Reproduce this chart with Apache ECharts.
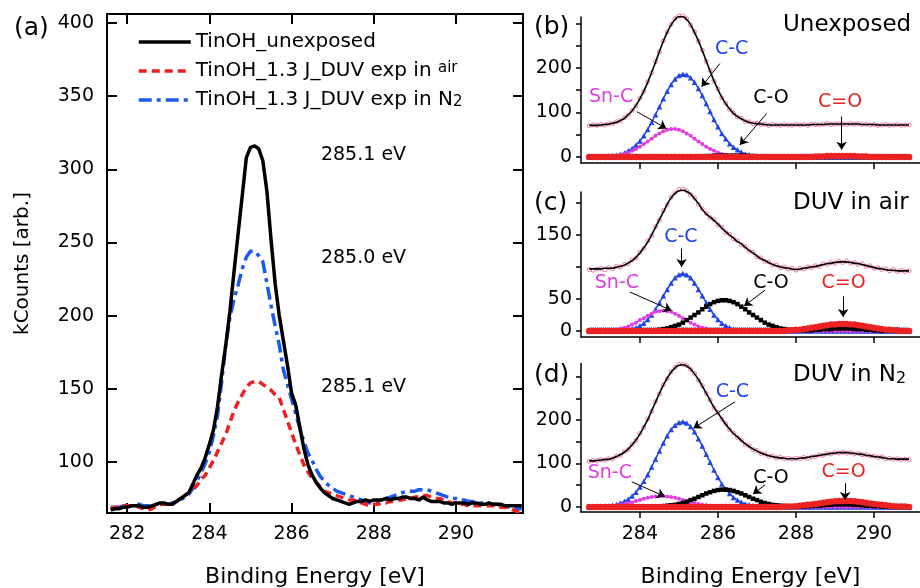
<!DOCTYPE html>
<html>
<head>
<meta charset="utf-8">
<script src="https://cdn.jsdelivr.net/npm/echarts@6/dist/echarts.min.js"></script>
<style>
  html, body { margin: 0; padding: 0; background: #fff; }
  #chart { width: 920px; height: 588px; }
</style>
</head>
<body>
<div id="chart"></div>
<script>
// ---- panel (a): C 1s spectra of the three samples ----
const energyA = [
  281.6, 281.7, 281.8, 281.9, 282.0, 282.1, 282.2, 282.3, 282.4, 282.5,
  282.6, 282.7, 282.8, 282.9, 283.0, 283.1, 283.2, 283.3, 283.4, 283.5,
  283.6, 283.7, 283.8, 283.9, 284.0, 284.1, 284.2, 284.3, 284.4, 284.5,
  284.6, 284.7, 284.8, 284.9, 285.0, 285.1, 285.2, 285.3, 285.4, 285.5,
  285.6, 285.7, 285.8, 285.9, 286.0, 286.1, 286.2, 286.3, 286.4, 286.5,
  286.6, 286.7, 286.8, 286.9, 287.0, 287.1, 287.2, 287.3, 287.4, 287.5,
  287.6, 287.7, 287.8, 287.9, 288.0, 288.1, 288.2, 288.3, 288.4, 288.5,
  288.6, 288.7, 288.8, 288.9, 289.0, 289.1, 289.2, 289.3, 289.4, 289.5,
  289.6, 289.7, 289.8, 289.9, 290.0, 290.1, 290.2, 290.3, 290.4, 290.5,
  290.6, 290.7, 290.8, 290.9, 291.0, 291.1, 291.2, 291.3, 291.4, 291.5,
  291.6
];
const unexposedA = [
  67, 68, 68, 69, 69, 70, 70, 70, 69, 69,
  70, 71, 72, 72, 71, 71, 73, 75, 77, 79,
  85, 91, 96, 103, 112, 122, 138, 160, 180, 203,
  230, 256, 282, 308, 315, 316, 314, 306, 285, 252,
  222, 200, 183, 166, 147, 139, 124, 109, 98, 91,
  86, 82, 79, 77, 75, 74, 73, 72, 71, 72,
  73, 73, 74, 73, 74, 74, 74, 75, 74, 75,
  75, 76, 76, 75, 75, 74, 76, 74, 73, 73,
  73, 72, 72, 71, 72, 72, 72, 71, 72, 72,
  71, 71, 72, 71, 71, 71, 70, 70, 70, 70,
  70
];
const airA = [
  68, 69, 69, 70, 70, 70, 70, 69, 68, 67,
  68, 70, 71, 71, 71, 71, 73, 75, 77, 79,
  81, 84, 88, 91, 96, 101, 107, 113, 119, 127,
  135, 141, 146, 151, 154, 155, 155, 153, 151, 149,
  146, 144, 136, 128, 120, 112, 105, 98, 93, 89,
  86, 83, 80, 79, 78, 77, 76, 75, 74, 74,
  73, 72, 71, 70, 71, 71, 72, 72, 73, 73,
  74, 74, 75, 75, 76, 76, 77, 77, 76, 75,
  75, 74, 73, 72, 72, 71, 71, 70, 70, 70,
  70, 70, 70, 70, 70, 69, 69, 68, 67, 66,
  66
];
const n2A = [
  69, 69, 69, 70, 70, 70, 71, 71, 70, 70,
  70, 71, 71, 71, 71, 72, 73, 74, 76, 78,
  82, 87, 93, 99, 107, 118, 132, 155, 180, 199,
  211, 221, 232, 240, 244, 244, 241, 237, 222, 207,
  193, 180, 163, 153, 143, 133, 123, 114, 106, 101,
  95, 90, 87, 84, 82, 80, 79, 78, 77, 76,
  75, 74, 73, 72, 72, 73, 74, 75, 76, 77,
  78, 79, 80, 80, 80, 81, 81, 81, 80, 79,
  78, 77, 76, 75, 75, 74, 74, 73, 73, 72,
  72, 72, 71, 71, 71, 70, 70, 69, 69, 68,
  68
];
const xTicksA = [282, 284, 286, 288, 290];
const yTicksA = [100, 150, 200, 250, 300, 350, 400];
const peakTextA = ['285.1 eV', '285.0 eV', '285.1 eV'];
const peakTextPosA = [[287.75, 310], [287.75, 239], [287.75, 151]];

// ---- panels (b)-(d): fitted C 1s spectra ----
const energyB = [
  282.7, 282.8, 282.9, 283.0, 283.1, 283.2, 283.3, 283.4, 283.5, 283.6,
  283.7, 283.8, 283.9, 284.0, 284.1, 284.2, 284.3, 284.4, 284.5, 284.6,
  284.7, 284.8, 284.9, 285.0, 285.1, 285.2, 285.3, 285.4, 285.5, 285.6,
  285.7, 285.8, 285.9, 286.0, 286.1, 286.2, 286.3, 286.4, 286.5, 286.6,
  286.7, 286.8, 286.9, 287.0, 287.1, 287.2, 287.3, 287.4, 287.5, 287.6,
  287.7, 287.8, 287.9, 288.0, 288.1, 288.2, 288.3, 288.4, 288.5, 288.6,
  288.7, 288.8, 288.9, 289.0, 289.1, 289.2, 289.3, 289.4, 289.5, 289.6,
  289.7, 289.8, 289.9, 290.0, 290.1, 290.2, 290.3, 290.4, 290.5, 290.6,
  290.7, 290.8, 290.9
];
const baseE = [282.7, 290.9];

// (b) unexposed
const measB = [
  70, 72, 71, 73, 72, 75, 75, 79, 81, 88,
  94, 105, 115, 132, 147, 169, 189, 214, 236, 261,
  281, 298, 311, 317, 317, 311, 296, 281, 260, 240,
  215, 194, 170, 153, 133, 121, 107, 99, 90, 87,
  80, 79, 75, 76, 73, 74, 71, 73, 72, 71,
  73, 72, 71, 73, 72, 73, 71, 74, 73, 72,
  74, 75, 73, 74, 75, 74, 73, 75, 74, 75,
  73, 74, 72, 73, 71, 72, 73, 71, 72, 73,
  71, 72, 72
];
const fitB = [
  71, 71, 71, 72, 73, 74, 76, 78, 82, 87,
  95, 104, 116, 131, 148, 168, 190, 213, 237, 260,
  280, 297, 309, 315, 315, 309, 297, 280, 261, 239,
  216, 193, 171, 152, 134, 120, 108, 98, 91, 86,
  81, 78, 76, 75, 74, 73, 72, 72, 72, 72,
  72, 72, 72, 72, 72, 72, 72, 73, 73, 73,
  73, 74, 74, 74, 74, 74, 74, 74, 74, 74,
  73, 73, 73, 73, 72, 72, 72, 72, 72, 72,
  72, 72, 72
];
const ccB = [
  0, 0, 0, 1, 1, 2, 3, 4, 6, 9,
  14, 19, 27, 36, 48, 62, 78, 95, 113, 131,
  148, 163, 175, 183, 186, 185, 178, 168, 154, 138,
  120, 102, 84, 68, 53, 41, 30, 22, 16, 11,
  7, 5, 3, 2, 1, 1, 0, 0, 0, 0,
  0, 0, 0, 0, 0, 0, 0, 0, 0, 0,
  0, 0, 0, 0, 0, 0, 0, 0, 0, 0,
  0, 0, 0, 0, 0, 0, 0, 0, 0, 0,
  0, 0, 0
];
const sncB = [
  0, 0, 0, 1, 1, 1, 2, 3, 5, 7,
  10, 14, 18, 23, 29, 35, 41, 48, 53, 58,
  61, 63, 63, 61, 58, 53, 48, 41, 35, 29,
  23, 18, 14, 10, 7, 5, 3, 2, 1, 1,
  1, 0, 0, 0, 0, 0, 0, 0, 0, 0,
  0, 0, 0, 0, 0, 0, 0, 0, 0, 0,
  0, 0, 0, 0, 0, 0, 0, 0, 0, 0,
  0, 0, 0, 0, 0, 0, 0, 0, 0, 0,
  0, 0, 0
];
const coB = [
  0, 0, 0, 0, 0, 0, 0, 0, 0, 0,
  0, 0, 0, 0, 0, 0, 0, 0, 0, 0,
  0, 0, 0, 0, 0, 0, 0, 0, 1, 1,
  2, 2, 3, 3, 3, 3, 3, 3, 3, 3,
  3, 2, 2, 1, 1, 1, 0, 0, 0, 0,
  0, 0, 0, 0, 0, 0, 0, 0, 0, 0,
  0, 0, 0, 0, 0, 0, 0, 0, 0, 0,
  0, 0, 0, 0, 0, 0, 0, 0, 0, 0,
  0, 0, 0
];
const cdoB = [
  0, 0, 0, 0, 0, 0, 0, 0, 0, 0,
  0, 0, 0, 0, 0, 0, 0, 0, 0, 0,
  0, 0, 0, 0, 0, 0, 0, 0, 0, 0,
  0, 0, 0, 0, 0, 0, 0, 0, 0, 0,
  0, 0, 0, 0, 0, 0, 0, 0, 0, 0,
  0, 0, 0, 0, 0, 0, 0, 0, 1, 1,
  1, 2, 2, 2, 2, 2, 2, 2, 2, 1,
  1, 1, 0, 0, 0, 0, 0, 0, 0, 0,
  0, 0, 0
];
const baseB = [6, 6];

// (c) DUV in air
const measC = [
  96, 95, 97, 98, 96, 99, 97, 101, 100, 104,
  105, 111, 114, 123, 129, 141, 149, 163, 173, 188,
  197, 209, 216, 221, 222, 219, 213, 208, 198, 191,
  184, 177, 174, 166, 162, 154, 151, 144, 141, 135,
  132, 125, 123, 116, 114, 109, 108, 103, 103, 99,
  100, 97, 98, 95, 98, 97, 100, 99, 102, 101,
  105, 104, 107, 106, 109, 107, 109, 106, 107, 104,
  105, 101, 102, 98, 99, 96, 97, 94, 96, 93,
  95, 93, 94
];
const fitC = [
  97, 97, 97, 97, 98, 98, 98, 100, 101, 103,
  106, 110, 115, 122, 130, 139, 150, 162, 174, 186,
  198, 208, 215, 219, 220, 218, 214, 207, 199, 190,
  183, 178, 173, 167, 161, 155, 150, 145, 140, 136,
  131, 126, 122, 117, 113, 110, 107, 104, 102, 100,
  99, 98, 97, 96, 97, 98, 99, 100, 101, 102,
  104, 105, 106, 107, 108, 108, 108, 107, 106, 105,
  104, 102, 101, 99, 98, 97, 96, 95, 95, 94,
  94, 94, 94
];
const ccC = [
  0, 0, 0, 0, 0, 0, 0, 0, 1, 1,
  2, 3, 5, 8, 12, 18, 25, 34, 44, 55,
  65, 75, 83, 88, 90, 88, 83, 75, 65, 55,
  44, 34, 25, 18, 12, 8, 5, 3, 2, 1,
  1, 0, 0, 0, 0, 0, 0, 0, 0, 0,
  0, 0, 0, 0, 0, 0, 0, 0, 0, 0,
  0, 0, 0, 0, 0, 0, 0, 0, 0, 0,
  0, 0, 0, 0, 0, 0, 0, 0, 0, 0,
  0, 0, 0
];
const sncC = [
  0, 0, 0, 0, 1, 1, 1, 2, 4, 5,
  7, 10, 13, 17, 20, 24, 27, 30, 31, 32,
  31, 30, 27, 24, 20, 17, 13, 10, 7, 5,
  4, 2, 1, 1, 1, 0, 0, 0, 0, 0,
  0, 0, 0, 0, 0, 0, 0, 0, 0, 0,
  0, 0, 0, 0, 0, 0, 0, 0, 0, 0,
  0, 0, 0, 0, 0, 0, 0, 0, 0, 0,
  0, 0, 0, 0, 0, 0, 0, 0, 0, 0,
  0, 0, 0
];
const coC = [
  0, 0, 0, 0, 0, 0, 0, 0, 0, 0,
  0, 0, 0, 0, 0, 1, 1, 1, 2, 3,
  4, 6, 8, 10, 13, 17, 21, 25, 29, 34,
  38, 42, 45, 47, 48, 48, 47, 45, 42, 38,
  34, 29, 25, 21, 17, 13, 10, 8, 6, 4,
  3, 2, 1, 1, 1, 1, 1, 1, 2, 2,
  3, 3, 3, 4, 4, 4, 4, 4, 3, 3,
  3, 2, 2, 1, 1, 0, 0, 0, 0, 0,
  0, 0, 0
];
const cdoC = [
  0, 0, 0, 0, 0, 0, 0, 0, 0, 0,
  0, 0, 0, 0, 0, 0, 0, 0, 0, 0,
  0, 0, 0, 0, 0, 0, 0, 0, 0, 0,
  0, 0, 0, 0, 0, 0, 0, 0, 0, 0,
  0, 0, 0, 0, 0, 0, 0, 0, 0, 0,
  0, 1, 1, 2, 2, 3, 4, 5, 6, 7,
  8, 9, 10, 10, 11, 11, 11, 10, 10, 9,
  8, 7, 6, 5, 4, 3, 2, 2, 1, 1,
  0, 0, 0
];
const baseC = [5, 5];

// (d) DUV in N2
const measD = [
  105, 107, 106, 109, 108, 111, 111, 117, 119, 127,
  132, 144, 153, 169, 183, 202, 220, 242, 260, 281,
  295, 311, 321, 328, 328, 325, 316, 307, 292, 279,
  261, 246, 228, 217, 202, 191, 178, 170, 160, 154,
  144, 140, 132, 130, 123, 122, 117, 117, 113, 114,
  111, 112, 110, 112, 111, 114, 112, 115, 116, 120,
  119, 123, 122, 125, 124, 126, 124, 125, 122, 123,
  120, 120, 117, 117, 114, 115, 111, 112, 110, 111,
  109, 110, 109
];
const fitD = [
  106, 106, 107, 108, 109, 110, 112, 116, 120, 126,
  133, 143, 154, 168, 184, 201, 221, 241, 261, 280,
  296, 310, 320, 326, 327, 324, 317, 306, 293, 278,
  262, 245, 229, 216, 203, 190, 179, 169, 161, 153,
  145, 139, 133, 129, 124, 121, 118, 116, 114, 113,
  112, 111, 111, 111, 112, 113, 114, 116, 117, 119,
  120, 122, 123, 124, 125, 125, 125, 124, 123, 122,
  121, 119, 118, 116, 115, 114, 112, 111, 111, 110,
  110, 110, 110
];
const ccD = [
  0, 0, 1, 1, 2, 2, 4, 6, 9, 13,
  18, 25, 34, 46, 59, 74, 92, 110, 129, 147,
  164, 178, 188, 194, 196, 193, 185, 173, 157, 140,
  121, 103, 85, 68, 53, 41, 31, 22, 16, 11,
  7, 5, 3, 2, 1, 1, 0, 0, 0, 0,
  0, 0, 0, 0, 0, 0, 0, 0, 0, 0,
  0, 0, 0, 0, 0, 0, 0, 0, 0, 0,
  0, 0, 0, 0, 0, 0, 0, 0, 0, 0,
  0, 0, 0
];
const sncD = [
  0, 0, 1, 1, 1, 2, 3, 4, 5, 7,
  9, 11, 14, 16, 19, 21, 23, 24, 25, 25,
  24, 23, 21, 19, 16, 14, 11, 9, 7, 5,
  4, 3, 2, 1, 1, 1, 0, 0, 0, 0,
  0, 0, 0, 0, 0, 0, 0, 0, 0, 0,
  0, 0, 0, 0, 0, 0, 0, 0, 0, 0,
  0, 0, 0, 0, 0, 0, 0, 0, 0, 0,
  0, 0, 0, 0, 0, 0, 0, 0, 0, 0,
  0, 0, 0
];
const coD = [
  0, 0, 0, 0, 0, 0, 0, 0, 0, 0,
  0, 0, 0, 0, 0, 0, 0, 1, 1, 2,
  3, 4, 5, 7, 9, 12, 16, 19, 23, 27,
  31, 34, 37, 39, 40, 40, 39, 37, 34, 31,
  27, 23, 19, 16, 12, 9, 7, 5, 4, 3,
  2, 1, 1, 1, 1, 1, 2, 2, 3, 3,
  4, 5, 5, 6, 6, 6, 6, 6, 5, 5,
  4, 3, 3, 2, 2, 1, 1, 0, 0, 0,
  0, 0, 0
];
const cdoD = [
  0, 0, 0, 0, 0, 0, 0, 0, 0, 0,
  0, 0, 0, 0, 0, 0, 0, 0, 0, 0,
  0, 0, 0, 0, 0, 0, 0, 0, 0, 0,
  0, 0, 0, 0, 0, 0, 0, 0, 0, 0,
  0, 0, 0, 0, 0, 0, 0, 0, 0, 0,
  1, 1, 1, 2, 3, 4, 5, 6, 7, 8,
  10, 11, 12, 13, 14, 14, 14, 14, 13, 12,
  11, 10, 8, 7, 6, 5, 4, 3, 2, 1,
  1, 1, 0
];
const baseD = [5, 5];

const xTicksB = [284, 286, 288, 290];
const yTicks300 = [0, 50, 100, 150, 200, 250, 300];
const yLabels300 = [0, 100, 200];
const yTicksC = [0, 50, 100, 150, 200];
const yLabelsC = [0, 50, 150];

// peak labels and arrows (data coordinates of each panel)
const peakNames = ['C-C', 'Sn-C', 'C-O', 'C=O'];
const notePosB = [[286.35, 242], [283.26, 135], [287.36, 133], [289.13, 124]];
const arrowsB = [[[286.05, 210], [285.58, 158]], [[283.92, 102], [284.68, 64]], [[287.25, 98], [286.56, 27]], [[289.17, 91], [289.17, 16]]];
const notePosC = [[285.05, 147], [283.41, 75], [287.36, 75], [289.22, 75]];
const arrowsC = [[[285.07, 129], [285.07, 100]], [[283.74, 61], [284.81, 32]], [[287.21, 64], [286.67, 39]], [[289.21, 54], [289.21, 22]]];
const notePosD = [[286.37, 264], [283.23, 78], [287.36, 67], [289.22, 80]];
const arrowsD = [[[286.44, 242], [285.37, 181]], [[283.79, 58], [284.64, 24]], [[287.21, 51], [286.9, 30]], [[289.26, 55], [289.26, 16]]];

const font = 'DejaVu Sans';
const compColors = ['#1f45e8', '#e23de2', '#000000', '#ec2222'];
const compSymbols = ['triangle', 'circle', 'rect', 'circle'];
const compSizes = [5.5, 4, 4.5, 6.5];

const pairs = (xs, ys) => xs.map((x, i) => [x, ys[i]]);

const chart = echarts.init(document.getElementById('chart'));

function bigAxisX(pos, labels) {
  return {
    type: 'value', gridIndex: 0, position: pos, min: 281.51, max: 291.63,
    axisLine: { show: true, onZero: false, lineStyle: { color: '#000', width: 2 } },
    axisTick: { show: true, inside: true, length: 10, customValues: xTicksA, lineStyle: { color: '#000', width: 2 } },
    axisLabel: { show: labels, customValues: xTicksA, margin: 12, fontSize: 19, color: '#000', fontFamily: font },
    splitLine: { show: false },
    name: labels ? 'Binding Energy [eV]' : '', nameLocation: 'middle', nameGap: 53, nameMoveOverlap: false,
    nameTextStyle: { fontSize: 22, color: '#000', fontFamily: font }
  };
}
function bigAxisY(pos, labels) {
  return {
    type: 'value', gridIndex: 0, position: pos, min: 65.1, max: 406.1,
    axisLine: { show: true, onZero: false, lineStyle: { color: '#000', width: 2 } },
    axisTick: { show: true, inside: true, length: 10, customValues: yTicksA, lineStyle: { color: '#000', width: 2 } },
    axisLabel: { show: labels, customValues: yTicksA, margin: 13, fontSize: 19, color: '#000', fontFamily: font },
    splitLine: { show: false },
    name: labels ? 'kCounts [arb.]' : '', nameLocation: 'middle', nameGap: 74, nameMoveOverlap: false,
    nameTextStyle: { fontSize: 20, color: '#000', fontFamily: font }
  };
}
function smallAxisX(g, labels) {
  return {
    type: 'value', gridIndex: g, min: 282.49, max: 291.18,
    axisLine: { show: true, onZero: false, lineStyle: { color: '#000', width: 1.5 } },
    axisTick: { show: true, inside: false, length: 6, customValues: xTicksB, lineStyle: { color: '#000', width: 1.5 } },
    axisLabel: { show: labels, customValues: xTicksB, margin: 13, fontSize: 19, color: '#000', fontFamily: font },
    splitLine: { show: false },
    name: labels ? 'Binding Energy [eV]' : '', nameLocation: 'middle', nameGap: 54, nameMoveOverlap: false,
    nameTextStyle: { fontSize: 22, color: '#000', fontFamily: font }
  };
}
function smallAxisY(g, min, max, ticks, labels) {
  return {
    type: 'value', gridIndex: g, min: min, max: max,
    axisLine: { show: true, onZero: false, lineStyle: { color: '#000', width: 1.5 } },
    axisTick: { show: true, inside: false, length: 5, customValues: ticks, lineStyle: { color: '#000', width: 1.5 } },
    axisLabel: { show: true, customValues: labels, margin: 9, fontSize: 19, color: '#000', fontFamily: font },
    splitLine: { show: false }
  };
}

function fitSeries(k, meas, fit, comps, base, notePos, arrows) {
  const ax = { xAxisIndex: k + 2, yAxisIndex: k + 2 };
  const out = [];
  comps.forEach(function (c, j) {
    out.push(Object.assign({
      type: 'line', data: pairs(energyB, c), symbol: compSymbols[j], symbolSize: compSizes[j],
      showSymbol: true, clip: false, silent: true,
      itemStyle: { color: compColors[j] },
      lineStyle: { color: compColors[j], width: 1.5 }
    }, ax));
  });
  out.push(Object.assign({
    type: 'line', data: pairs(baseE, base), symbol: 'none', silent: true,
    lineStyle: { color: '#2c4bb0', width: 1, type: 'dotted' }
  }, ax));
  out.push(Object.assign({
    type: 'scatter', data: pairs(energyB, meas), symbol: 'circle', symbolSize: 4, clip: false, silent: true,
    itemStyle: { color: 'rgba(0,0,0,0)', borderColor: '#e25b8a', borderWidth: 1 }
  }, ax));
  out.push(Object.assign({
    type: 'line', data: pairs(energyB, fit), symbol: 'none', smooth: true, clip: false, silent: true,
    lineStyle: { color: '#000', width: 1.6 },
    markPoint: {
      silent: true, symbol: 'circle', symbolSize: 0,
      itemStyle: { color: 'rgba(0,0,0,0)' },
      label: { show: true, position: 'inside', formatter: '{b}', fontSize: 19, fontFamily: font },
      data: peakNames.map(function (n, j) {
        return { name: n, coord: notePos[j], label: { color: compColors[j] } };
      })
    },
    markLine: {
      silent: true, symbol: ['none', 'arrow'], symbolSize: 8,
      lineStyle: { color: '#000', width: 1, type: 'solid' },
      label: { show: false },
      data: arrows.map(function (a) { return [{ coord: a[0] }, { coord: a[1] }]; })
    }
  }, ax));
  return out;
}

const nameUnexp = 'TinOH_unexposed';
const nameAir = 'TinOH_1.3 J_DUV exp in air';
const nameN2 = 'TinOH_1.3 J_DUV exp in N2';

const seriesA = [
  {
    name: nameN2, type: 'line', xAxisIndex: 0, yAxisIndex: 0, data: pairs(energyA, n2A),
    symbol: 'none', itemStyle: { color: '#1a5af0' },
    lineStyle: { color: '#1a5af0', width: 3.5, type: [13, 5, 4, 5] }
  },
  {
    name: nameAir, type: 'line', xAxisIndex: 0, yAxisIndex: 0, data: pairs(energyA, airA),
    symbol: 'none', itemStyle: { color: '#ee2020' },
    lineStyle: { color: '#ee2020', width: 3.5, type: [8, 5] }
  },
  {
    name: nameUnexp, type: 'line', xAxisIndex: 0, yAxisIndex: 0, data: pairs(energyA, unexposedA),
    symbol: 'none', itemStyle: { color: '#000' },
    lineStyle: { color: '#000', width: 3.5 },
    markPoint: {
      silent: true, symbol: 'circle', symbolSize: 0,
      itemStyle: { color: 'rgba(0,0,0,0)' },
      label: { show: true, position: 'inside', formatter: '{b}', fontSize: 19, color: '#000', fontFamily: font },
      data: peakTextA.map(function (t, i) { return { name: t, coord: peakTextPosA[i] }; })
    }
  }
];

chart.setOption({
  animation: false,
  backgroundColor: '#fff',
  textStyle: { fontFamily: font, color: '#000' },
  grid: [
    { left: 107, top: 14, width: 416, height: 499, outerBoundsMode: 'none' },
    { left: 581, top: 17, width: 339, height: 146, outerBoundsMode: 'none' },
    { left: 581, top: 192, width: 339, height: 145, outerBoundsMode: 'none' },
    { left: 581, top: 363.5, width: 339, height: 148.5, outerBoundsMode: 'none' }
  ],
  xAxis: [
    bigAxisX('bottom', true),
    bigAxisX('top', false),
    smallAxisX(1, false),
    smallAxisX(2, false),
    smallAxisX(3, true)
  ],
  yAxis: [
    bigAxisY('left', true),
    bigAxisY('right', false),
    smallAxisY(1, -13.5, 314.6, yTicks300, yLabels300),
    smallAxisY(2, -9.4, 217.2, yTicksC, yLabelsC),
    smallAxisY(3, -11.5, 329.9, yTicks300, yLabels300)
  ],
  legend: {
    data: [nameUnexp, nameAir, nameN2],
    orient: 'vertical', left: 137, top: 32, padding: 0,
    itemWidth: 52, itemHeight: 14, itemGap: 9,
    selectedMode: false,
    itemStyle: { opacity: 0 },
    lineStyle: { width: 3.5 },
    textStyle: {
      fontSize: 20, color: '#000', fontFamily: font,
      rich: {
        sup: { fontSize: 15, color: '#000', fontFamily: font, verticalAlign: 'top' },
        sub: { fontSize: 15, color: '#000', fontFamily: font, verticalAlign: 'bottom' }
      }
    },
    formatter: function (name) {
      if (name === nameAir) return 'TinOH_1.3 J_DUV exp in {sup|air}';
      if (name === nameN2) return 'TinOH_1.3 J_DUV exp in N{sub|2}';
      return name;
    }
  },
  graphic: [
    { type: 'text', x: 14, y: 28, style: { text: '(a)', font: '25px "DejaVu Sans"', fill: '#000', verticalAlign: 'middle' } },
    { type: 'text', x: 534, y: 27, style: { text: '(b)', font: '25px "DejaVu Sans"', fill: '#000', verticalAlign: 'middle' } },
    { type: 'text', x: 534, y: 203, style: { text: '(c)', font: '25px "DejaVu Sans"', fill: '#000', verticalAlign: 'middle' } },
    { type: 'text', x: 534, y: 375, style: { text: '(d)', font: '25px "DejaVu Sans"', fill: '#000', verticalAlign: 'middle' } },
    { type: 'text', x: 783, y: 25, style: { text: 'Unexposed', font: '23px "DejaVu Sans"', fill: '#000', verticalAlign: 'middle' } },
    { type: 'text', x: 793, y: 203, style: { text: 'DUV in air', font: '23px "DejaVu Sans"', fill: '#000', verticalAlign: 'middle' } },
    {
      type: 'text', x: 793, y: 375,
      style: {
        text: 'DUV in N{s|2}', font: '23px "DejaVu Sans"', fill: '#000', verticalAlign: 'middle',
        rich: { s: { fontSize: 16, fontFamily: font, fill: '#000', verticalAlign: 'bottom' } }
      }
    }
  ],
  series: seriesA
    .concat(fitSeries(0, measB, fitB, [ccB, sncB, coB, cdoB], baseB, notePosB, arrowsB))
    .concat(fitSeries(1, measC, fitC, [ccC, sncC, coC, cdoC], baseC, notePosC, arrowsC))
    .concat(fitSeries(2, measD, fitD, [ccD, sncD, coD, cdoD], baseD, notePosD, arrowsD))
});
</script>
</body>
</html>
